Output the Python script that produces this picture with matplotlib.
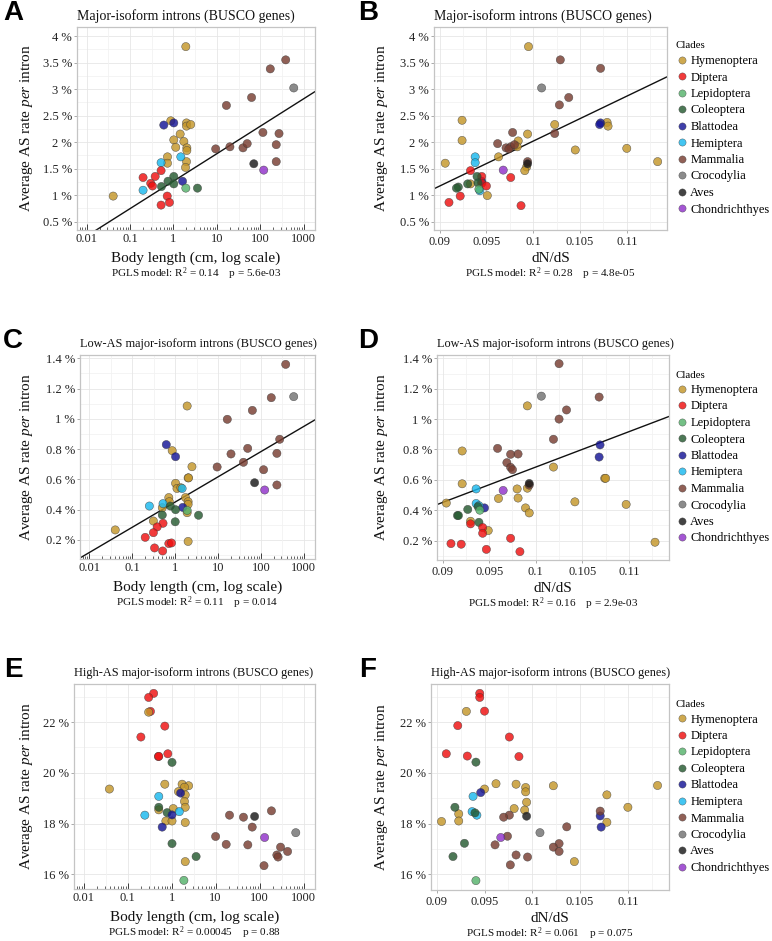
import numpy as np
import matplotlib
matplotlib.use("Agg")
import matplotlib.pyplot as plt
from matplotlib.lines import Line2D
from matplotlib.ticker import FixedLocator, NullFormatter

plt.rcParams['font.family'] = ['Liberation Serif', 'DejaVu Serif']
plt.rcParams['mathtext.fontset'] = 'custom'
plt.rcParams['mathtext.rm'] = 'Liberation Serif'
plt.rcParams['mathtext.it'] = 'Liberation Serif:italic'
plt.rcParams['mathtext.bf'] = 'Liberation Serif:bold'

# ---------------- data ----------------
clade_names = ['Hymenoptera', 'Diptera', 'Lepidoptera', 'Coleoptera', 'Blattodea',
               'Hemiptera', 'Mammalia', 'Crocodylia', 'Aves', 'Chondrichthyes']
clade_codes = ['Hym', 'Dip', 'Lep', 'Col', 'Bla', 'Hem', 'Mam', 'Cro', 'Ave', 'Cho']
clade_colors = ['#C4962A', '#EE1010', '#55B36C', '#265A31', '#141496',
                '#1AB9EE', '#783D31', '#727272', '#1A1A1A', '#9031CA']

# Panel A: body length (cm) vs major-isoform AS rate (%)
a_clade = (['Hym'] * 16 + ['Bla'] * 3 + ['Hem'] * 3 + ['Dip'] * 8 + ['Col'] * 5 + ['Lep']
           + ['Mam'] * 12 + ['Cro', 'Ave', 'Cho'])
a_x = [0.041, 1.93, 0.87, 2.0, 2.0, 2.5, 1.43, 1.02, 1.74, 1.13, 2.04, 2.04, 0.73, 0.73, 2.0, 1.9,
       0.60, 1.02, 1.62,
       0.52, 0.20, 1.48,
       0.20, 0.38, 0.52, 0.30, 0.33, 0.72, 0.52, 0.81,
       1.02, 0.75, 1.02, 0.53, 3.58,
       1.93,
       16.6, 63, 170, 385, 9.4, 20, 40, 50, 115, 270, 233, 233,
       590, 71, 120]
a_y = [0.98, 3.80, 2.40, 2.36, 2.30, 2.33, 2.15, 2.04, 2.01, 1.90, 1.89, 1.84, 1.72, 1.60, 1.63, 1.52,
       2.32, 2.36, 1.26,
       1.61, 1.09, 1.72,
       1.33, 1.35, 1.46, 1.22, 1.17, 0.98, 0.81, 0.86,
       1.35, 1.26, 1.21, 1.16, 1.13,
       1.13,
       2.69, 2.84, 3.38, 3.55, 1.87, 1.91, 1.89, 1.97, 2.18, 2.16, 1.95, 1.63,
       3.02, 1.59, 1.47]

# Panel B: dN/dS vs major-isoform AS rate (%)
b_clade = (['Hym'] * 18 + ['Mam'] * 12 + ['Cro', 'Ave', 'Cho'] + ['Bla'] * 3 + ['Hem'] * 3
           + ['Dip'] * 8 + ['Col'] * 5 + ['Lep'])
b_x = [0.0995, 0.0924, 0.1023, 0.1079, 0.1080, 0.0994, 0.0924, 0.0984, 0.0983, 0.1045, 0.1100,
       0.1133, 0.0906, 0.0963, 0.0993, 0.0991, 0.0933, 0.0951,
       0.1029, 0.1072, 0.1038, 0.1028, 0.1023, 0.0978, 0.0962, 0.0971, 0.0976, 0.0974, 0.0980, 0.0994,
       0.1009, 0.0994, 0.0968,
       0.1072, 0.1071, 0.0945,
       0.0938, 0.0938, 0.0943,
       0.0933, 0.0976, 0.0945, 0.0945, 0.0950, 0.0922, 0.0910, 0.0987,
       0.0940, 0.0941, 0.0930, 0.0920, 0.0918,
       0.0942]
b_y = [3.80, 2.41, 2.33, 2.37, 2.30, 2.15, 2.03, 2.02, 1.91, 1.85, 1.88, 1.63, 1.60, 1.72, 1.53,
       1.46, 1.21, 0.99,
       3.55, 3.39, 2.84, 2.70, 2.16, 2.18, 1.97, 1.89, 1.91, 1.87, 1.95, 1.63,
       3.02, 1.59, 1.47,
       2.36, 2.33, 1.26,
       1.72, 1.61, 1.08,
       1.46, 1.33, 1.35, 1.22, 1.17, 0.98, 0.86, 0.80,
       1.35, 1.23, 1.21, 1.15, 1.13,
       1.11]

# Panel C: body length vs low-AS major-isoform AS rate (%)
c_clade = (['Hym'] * 18 + ['Mam'] * 12 + ['Cro', 'Ave', 'Cho'] + ['Bla'] * 3 + ['Hem'] * 3
           + ['Col'] * 5 + ['Lep'] + ['Dip'] * 8)
c_x = [1.9, 0.85, 2.46, 2.0, 2.05, 1.02, 1.1, 1.35, 1.74, 2.0, 2.0, 0.71, 0.73, 0.50, 1.9, 0.31,
       0.040, 2.0,
       377, 174, 63, 16.4, 273, 49, 20, 235, 39, 9.5, 115, 235,
       580, 71, 122,
       0.62, 1.02, 1.5,
       0.25, 0.52, 1.45,
       0.77, 1.02, 0.50, 1.0, 3.5,
       1.9,
       0.52, 0.38, 0.31, 0.20, 0.71, 0.82, 0.33, 0.51]
c_y = [1.085, 0.79, 0.684, 0.61, 0.61, 0.574, 0.54, 0.545, 0.48, 0.453, 0.435, 0.48, 0.453, 0.413,
       0.38, 0.325, 0.266, 0.19,
       1.36, 1.14, 1.056, 0.997, 0.865, 0.805, 0.768, 0.772, 0.713, 0.682, 0.664, 0.563,
       1.147, 0.578, 0.53,
       0.83, 0.75, 0.415,
       0.424, 0.44, 0.54,
       0.424, 0.40, 0.365, 0.32, 0.363,
       0.395,
       0.31, 0.286, 0.248, 0.217, 0.176, 0.18, 0.147, 0.127]

# Panel D: dN/dS vs low-AS major-isoform AS rate (%)
d_clade = (['Hym'] * 18 + ['Mam'] * 12 + ['Cro', 'Ave', 'Cho'] + ['Bla'] * 3 + ['Hem'] * 3
           + ['Col'] * 5 + ['Lep'] + ['Dip'] * 8)
d_x = [0.0991, 0.0921, 0.1019, 0.1074, 0.1075, 0.0921, 0.0991, 0.0980, 0.0960, 0.0981, 0.1042,
       0.1097, 0.1128, 0.0904, 0.0989, 0.0993, 0.0930, 0.0949,
       0.1025, 0.1068, 0.1033, 0.1025, 0.1019, 0.0959, 0.0973, 0.0981, 0.0969, 0.0973, 0.0975, 0.0993,
       0.1006, 0.0993, 0.0965,
       0.1069, 0.1068, 0.0945,
       0.0936, 0.0936, 0.0939,
       0.0916, 0.0917, 0.0927, 0.0938, 0.0939,
       0.0940,
       0.0930, 0.0943, 0.0943, 0.0973, 0.0909, 0.0920, 0.0947, 0.0983]
d_y = [1.087, 0.79, 0.684, 0.61, 0.61, 0.574, 0.545, 0.54, 0.477, 0.48, 0.455, 0.438, 0.189, 0.447,
       0.415, 0.382, 0.327, 0.266,
       1.365, 1.145, 1.06, 1.0, 0.867, 0.807, 0.768, 0.77, 0.713, 0.682, 0.667, 0.565,
       1.151, 0.576, 0.53,
       0.83, 0.75, 0.415,
       0.54, 0.444, 0.43,
       0.365, 0.365, 0.405, 0.424, 0.32,
       0.40,
       0.31, 0.286, 0.248, 0.215, 0.18, 0.176, 0.142, 0.127]

# Panel E: body length vs high-AS major-isoform AS rate (%)
e_clade = (['Dip'] * 8 + ['Hym'] * 16 + ['Col'] * 5 + ['Hem'] * 3 + ['Bla'] * 3 + ['Lep']
           + ['Mam'] * 12 + ['Ave', 'Cho', 'Cro'])
e_x = [0.39, 0.30, 0.33, 0.70, 0.20, 0.50, 0.51, 0.82,
       0.30, 0.0385, 0.70, 1.73, 2.43, 1.96, 1.43, 2.04, 1.96, 2.04, 1.09, 0.51, 0.74, 1.02, 2.04, 2.04,
       1.02, 0.51, 0.79, 1.02, 3.6,
       0.51, 0.246, 1.5,
       1.6, 1.02, 0.61,
       1.9,
       20.7, 43, 186, 68, 10, 17.4, 54, 300, 433, 247, 263, 126,
       77, 130, 665]
e_y = [23.13, 22.97, 22.42, 21.84, 21.41, 20.64, 20.65, 20.75,
       22.39, 19.36, 19.55, 19.55, 19.49, 19.43, 19.26, 19.13, 18.87, 18.64, 18.59, 18.54, 18.1, 18.1,
       18.04, 16.5,
       20.41, 18.64, 18.43, 17.21, 16.7,
       19.07, 18.33, 18.47,
       19.2, 18.34, 17.86,
       15.76,
       18.33, 18.25, 18.5, 17.86, 17.49, 17.18, 17.16, 17.07, 16.9, 16.76, 16.68, 16.34,
       18.28, 17.45, 17.64]

# Panel F: dN/dS vs high-AS major-isoform AS rate (%)
f_clade = (['Dip'] * 8 + ['Hym'] * 18 + ['Bla'] * 3 + ['Hem'] * 3 + ['Col'] * 5 + ['Lep']
           + ['Mam'] * 12 + ['Ave', 'Cro', 'Cho'])
f_x = [0.0945, 0.0945, 0.0950, 0.0922, 0.0976, 0.0910, 0.0932, 0.0986,
       0.0931, 0.0962, 0.0983, 0.1022, 0.0993, 0.0993, 0.0950, 0.0994, 0.0981, 0.0992, 0.0923, 0.0923,
       0.0905, 0.1078, 0.1100, 0.1078, 0.1131, 0.1044,
       0.0946, 0.1071, 0.1072,
       0.0938, 0.0937, 0.0942,
       0.0941, 0.0919, 0.0940, 0.0929, 0.0917,
       0.0941,
       0.1071, 0.0976, 0.0970, 0.1036, 0.0974, 0.0961, 0.1028, 0.1022, 0.1028, 0.0983, 0.0995, 0.0977,
       0.0994, 0.1008, 0.0967]
f_y = [23.13, 22.97, 22.43, 21.86, 21.41, 20.75, 20.66, 20.64,
       22.42, 19.57, 19.55, 19.49, 19.42, 19.25, 19.36, 18.84, 18.59, 18.53, 18.38, 18.1, 18.08, 19.13,
       18.64, 18.05, 19.5, 16.5,
       19.22, 18.3, 17.86,
       19.07, 18.47, 18.33,
       20.42, 18.64, 18.42, 17.22, 16.7,
       15.75,
       18.49, 18.33, 18.25, 17.87, 17.5, 17.16, 17.21, 17.07, 16.9, 16.76, 16.68, 16.37,
       18.29, 17.64, 17.45]

# PGLS fits (intercept, slope); log10 body length for A/C, dN/dS for B/D
fit_a = (1.261, 0.5185)
fit_b = (-6.463, 84.8)
fit_c = (0.4505, 0.1666)
fit_d = (-1.646, 23.3)

titles = ['Major-isoform introns (BUSCO genes)', 'Major-isoform introns (BUSCO genes)',
          'Low-AS major-isoform introns (BUSCO genes)', 'Low-AS major-isoform introns (BUSCO genes)',
          'High-AS major-isoform introns (BUSCO genes)', 'High-AS major-isoform introns (BUSCO genes)']
stats = ['PGLS model: R$^{2}$ = 0.14    p = 5.6e-03', 'PGLS model: R$^{2}$ = 0.28    p = 4.8e-05',
         'PGLS model: R$^{2}$ = 0.11    p = 0.014', 'PGLS model: R$^{2}$ = 0.16    p = 2.9e-03',
         'PGLS model: R$^{2}$ = 0.00045    p = 0.88', 'PGLS model: R$^{2}$ = 0.061    p = 0.075']
letters = ['A', 'B', 'C', 'D', 'E', 'F']

ticks_major = [0.5, 1, 1.5, 2, 2.5, 3, 3.5, 4]
ticks_low = [0.2, 0.4, 0.6, 0.8, 1.0, 1.2, 1.4]
ticks_high = [16, 18, 20, 22]
ticks_body = [0.01, 0.1, 1, 10, 100, 1000]
ticks_dnds = [0.09, 0.095, 0.1, 0.105, 0.11]

# ---------------- figure ----------------
W, H = 772, 941
fig = plt.figure(figsize=(W / 100, H / 100), dpi=100)

color_of = dict(zip(clade_codes, clade_colors))


def add_ax(l, t, r, b):
    return fig.add_axes([l / W, 1 - b / H, (r - l) / W, (b - t) / H])


def ftext(x, y, s, **kw):
    fig.text(x / W, 1 - y / H, s, **kw)


def fmt_pct(v):
    return ('%g' % v) + ' %'


def fmt_num(v):
    return '%g' % v


panels = [
    dict(box=(77, 27, 315, 230), cl=a_clade, x=a_x, y=a_y, log=True, fit=fit_a,
         yl=(0.34, 4.17), yt=ticks_major, ystep=0.25, xlabel='Body length (cm, log scale)', tsize=10),
    dict(box=(434, 27, 667, 230), cl=b_clade, x=b_x, y=b_y, log=False, fit=fit_b,
         yl=(0.34, 4.17), yt=ticks_major, ystep=0.25, xlabel='dN/dS', tsize=10),
    dict(box=(80, 355, 315, 559), cl=c_clade, x=c_x, y=c_y, log=True, fit=fit_c,
         yl=(0.074, 1.422), yt=ticks_low, ystep=0.1, xlabel='Body length (cm, log scale)', tsize=8.8),
    dict(box=(437, 355, 669, 560), cl=d_clade, x=d_x, y=d_y, log=False, fit=fit_d,
         yl=(0.072, 1.422), yt=ticks_low, ystep=0.1, xlabel='dN/dS', tsize=8.8),
    dict(box=(74, 684, 315, 889), cl=e_clade, x=e_x, y=e_y, log=True, fit=None,
         yl=(15.42, 23.5), yt=ticks_high, ystep=1.0, xlabel='Body length (cm, log scale)', tsize=8.8),
    dict(box=(431, 684, 669, 890), cl=f_clade, x=f_x, y=f_y, log=False, fit=None,
         yl=(15.38, 23.5), yt=ticks_high, ystep=1.0, xlabel='dN/dS', tsize=8.8),
]

body_xlim = (10 ** -2.22, 10 ** 3.26)
dnds_xlim = (0.0894, 0.1143)

for i, p in enumerate(panels):
    l, t, r, b = p['box']
    ax = add_ax(l, t, r, b)
    ax.set_facecolor('white')
    for sp in ax.spines.values():
        sp.set_color('#c4c4c4')
        sp.set_linewidth(0.9)

    # grid
    y0, y1 = p['yl']
    gy = np.arange(0, 30, p['ystep'])
    for v in gy:
        if y0 < v < y1:
            major = any(abs(v - tt) < 1e-9 for tt in p['yt'])
            ax.axhline(v, color='#e6e6e6' if major else '#f2f2f2', lw=0.6, zorder=0)
    if p['log']:
        ax.set_xscale('log')
        ax.set_xlim(*body_xlim)
        for e in range(-3, 4):
            ax.axvline(10.0 ** e, color='#e6e6e6', lw=0.6, zorder=0)
            ax.axvline(10.0 ** (e + 0.5), color='#f2f2f2', lw=0.6, zorder=0)
        ax.xaxis.set_major_locator(FixedLocator(ticks_body))
        ax.set_xticklabels([fmt_num(v) for v in ticks_body])
        minors = [m * 10.0 ** e for e in range(-3, 4) for m in range(2, 10)]
        ax.xaxis.set_minor_locator(FixedLocator(minors))
        ax.xaxis.set_minor_formatter(NullFormatter())
        ax.tick_params(axis='x', which='major', direction='in', length=4, width=0.6,
                       color='#222222', pad=2.5, labelsize=9)
        ax.tick_params(axis='x', which='minor', direction='in', length=2, width=0.5,
                       color='#222222')
    else:
        ax.set_xlim(*dnds_xlim)
        for v in np.arange(0.085, 0.12, 0.0025):
            major = any(abs(v - tt) < 1e-9 for tt in ticks_dnds)
            ax.axvline(v, color='#e6e6e6' if major else '#f2f2f2', lw=0.6, zorder=0)
        ax.xaxis.set_major_locator(FixedLocator(ticks_dnds))
        ax.set_xticklabels([fmt_num(v) for v in ticks_dnds])
        ax.tick_params(axis='x', which='major', direction='out', length=2, width=0.5,
                       color='#888888', pad=2.0, labelsize=9)

    ax.set_ylim(y0, y1)
    ax.yaxis.set_major_locator(FixedLocator(p['yt']))
    ax.set_yticklabels([fmt_pct(v) for v in p['yt']])
    ax.tick_params(axis='y', which='major', direction='out', length=2, width=0.5,
                   color='#888888', pad=1.5, labelsize=9)
    ax.tick_params(axis='both', labelcolor='#222222')

    # regression line
    if p['fit'] is not None:
        a0, a1 = p['fit']
        if p['log']:
            xs = np.logspace(np.log10(body_xlim[0]), np.log10(body_xlim[1]), 200)
            ys = a0 + a1 * np.log10(xs)
        else:
            xs = np.linspace(dnds_xlim[0], dnds_xlim[1], 200)
            ys = a0 + a1 * xs
        ax.plot(xs, ys, color='#111111', lw=1.0, zorder=2)

    # points
    cols = [color_of[c] for c in p['cl']]
    ax.scatter(p['x'], p['y'], s=35, c=cols, alpha=0.82, edgecolors='#3a3a3a',
               linewidths=0.35, zorder=3)

    # texts
    cx = (l + r) / 2
    ftext(l, t - 11, titles[i], fontsize=p['tsize'], ha='left', va='center', color='#111111')
    ftext(cx, b + 28, p['xlabel'], fontsize=11, ha='center', va='center', color='#111111')
    ftext(cx, b + 44, stats[i], fontsize=8, ha='center', va='center', color='#111111')
    ylx = 27 if i % 2 == 0 else 382
    ftext(ylx, (t + b) / 2, 'Average AS rate $\\mathit{per}$ intron', fontsize=11,
          rotation=90, ha='center', va='center', color='#111111')
    lx = 13 if i % 2 == 0 else 368
    ftext(lx, t - 14, letters[i], fontsize=20, fontweight='bold', ha='center', va='center',
          family=['Liberation Sans', 'DejaVu Sans'])

    # legend (right column)
    if i % 2 == 1:
        handles = [Line2D([], [], ls='none', marker='o', markersize=5.2, markerfacecolor=cc,
                          markeredgecolor='#3a3a3a', markeredgewidth=0.3, alpha=0.82)
                   for cc in clade_colors]
        leg = ax.legend(handles, clade_names, loc='center left',
                        bbox_to_anchor=(676 / W, 1 - ((t + b) / 2) / H),
                        bbox_transform=fig.transFigure, frameon=False, title='Clades',
                        fontsize=9, title_fontsize=7.8, handletextpad=0.25, labelspacing=0.36,
                        borderpad=0, handlelength=0.9, borderaxespad=0, alignment='left')

fig.savefig('out.png', dpi=100)
